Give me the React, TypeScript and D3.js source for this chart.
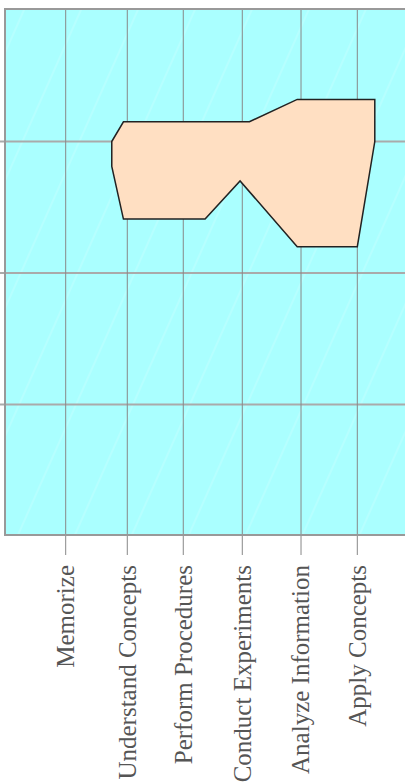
import React from "react";
import * as d3 from "d3";

const categories = [
  "Memorize",
  "Understand Concepts",
  "Perform Procedures",
  "Conduct Experiments",
  "Analyze Information",
  "Apply Concepts",
];
// positions of category ticks on the x axis
const categoryPositions = [0, 1.056, 2.016, 3.028, 4.035, 5.0];
const yGridValues = [1, 2, 3];

// polygon vertices
const polyX = [0.79, 0.99, 3.15, 3.97, 5.3, 5.3, 5.0, 3.97, 2.99, 2.39, 0.99, 0.79];
const polyY = [3.0, 3.15, 3.15, 3.32, 3.32, 3.0, 2.2, 2.2, 2.7, 2.41, 2.41, 2.81];

const W = 405;
const H = 783;
const plotLeft = 5;
const plotTop = 9;
const plotBottom = 535;
const plotRight = 430;

export default function App() {
  const x = d3.scaleLinear().domain([0, 5]).range([65.7, 357.3]);
  const y = d3.scaleLinear().domain([0, 4]).range([536, 10]);

  const pts: [number, number][] = polyX.map((v, i) => [x(v), y(polyY[i])]);
  const line = d3.line().curve(d3.curveLinearClosed);
  const polyPath = line(pts) || "";

  return (
    <svg
      width={W}
      height={H}
      style={{ position: "absolute", left: 0, top: 0 }}
    >
      <defs>
        <pattern
          id="diag"
          patternUnits="userSpaceOnUse"
          width={52}
          height={52}
          patternTransform="rotate(24)"
        >
          <rect width={52} height={52} fill="#aaffff" />
          <line x1={26} y1={0} x2={26} y2={52} stroke="#ffffff" strokeOpacity={0.28} strokeWidth={1} />
        </pattern>
        <clipPath id="plotClip">
          <rect x={plotLeft} y={plotTop} width={plotRight - plotLeft} height={plotBottom - plotTop} />
        </clipPath>
      </defs>

      <rect
        x={plotLeft}
        y={plotTop}
        width={plotRight - plotLeft}
        height={plotBottom - plotTop}
        fill="url(#diag)"
      />

      {yGridValues.map((v) => (
        <line
          key={"h" + v}
          x1={-20}
          x2={plotRight}
          y1={y(v)}
          y2={y(v)}
          stroke="#aaaaaa"
          strokeWidth={2}
        />
      ))}

      {categoryPositions.map((p, i) => (
        <line
          key={"v" + i}
          x1={x(p)}
          x2={x(p)}
          y1={plotTop}
          y2={plotBottom + 20}
          stroke="#888888"
          strokeWidth={1}
        />
      ))}

      <path
        d={polyPath}
        fill="#ffdfc2"
        stroke="#222222"
        strokeWidth={1.5}
        strokeLinejoin="miter"
        clipPath="url(#plotClip)"
      />

      <rect
        x={plotLeft}
        y={plotTop}
        width={plotRight - plotLeft}
        height={plotBottom - plotTop}
        fill="none"
        stroke="#999999"
        strokeWidth={2}
      />

      {categories.map((c, i) => (
        <text
          key={c}
          transform={`translate(${x(categoryPositions[i])},565) rotate(-90)`}
          textAnchor="end"
          dy="0.33em"
          fontFamily="'Liberation Serif', 'Times New Roman', serif"
          fontSize={25}
          fill="#555555"
        >
          {c}
        </text>
      ))}
    </svg>
  );
}
